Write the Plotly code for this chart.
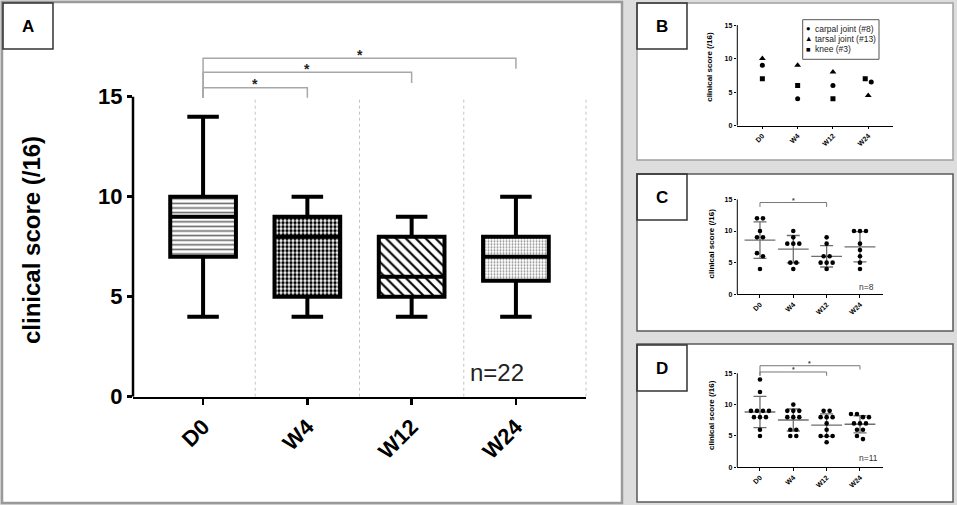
import numpy as np
import plotly.graph_objects as go

W, H = 957, 505
FONT = "Liberation Sans"

# ---------------- data ----------------
categories = ["D0", "W4", "W12", "W24"]

# Panel A : box plot statistics (n=22)
a_lower = [4, 4, 4, 4]
a_q1 = [7, 5, 5, 5.8]
a_median = [9, 8, 6, 7]
a_q3 = [10, 9, 8, 8]
a_upper = [14, 10, 9, 10]
a_label_n = "n=22"

# Panel B : three joints
b_carpal = [9, 4, 6, 6.5]
b_tarsal = [10, 9, 8, 4.5]
b_knee = [7, 6, 4, 7]
b_names = ["carpal joint (#8)", "tarsal joint (#13)", "knee (#3)"]

# Panel C : n=8
c_D0 = [12, 12, 10, 9, 9, 6.5, 6, 4]
c_W4 = [10, 9, 8, 8, 8, 5, 5, 4]
c_W12 = [9, 8, 6, 6, 5, 5, 5, 4]
c_W24 = [10, 10, 10, 8, 7, 6, 5, 4]
c_label_n = "n=8"

# Panel D : n=11
d_D0 = [14, 12, 9, 9, 9, 9, 8, 8, 8, 6, 5]
d_W4 = [10, 9, 9, 9, 8, 8, 8, 6, 6, 5, 5]
d_W12 = [9, 9, 8, 8, 8, 7, 6, 5, 5, 5, 4]
d_W24 = [8.5, 8.5, 8, 8, 7, 7, 7, 6, 6, 5, 4.5]
d_label_n = "n=11"

y_title = "clinical score (/16)"
y_ticks = [0, 5, 10, 15]

# ---------------- geometry helpers ----------------
def px(x):
    return x / W

def py(y):
    return 1 - y / H

# panel plot geometry (pixels)
G = {
    "A": dict(x=(133, 586), ybot=396.7, ppu=20.0, yr=(0, 17.6), xr=(-0.672, 3.672), s=""),
    "B": dict(x=(737.3, 893.3), ybot=125.7, ppu=6.71, yr=(0, 15), xr=(-0.71, 3.71), s="2"),
    "C": dict(x=(737.3, 883.3), ybot=294.3, ppu=6.33, yr=(0, 15), xr=(-0.68, 3.70), s="3"),
    "D": dict(x=(737.3, 883.3), ybot=467.3, ppu=6.27, yr=(0, 16.9), xr=(-0.68, 3.70), s="4"),
}
for g in G.values():
    g["ytop"] = g["ybot"] - (g["yr"][1] - g["yr"][0]) * g["ppu"]
    g["ppx"] = (g["x"][1] - g["x"][0]) / (g["xr"][1] - g["xr"][0])


def swarm(vals, ppu_y, ppu_x, d=6.0):
    order = sorted(range(len(vals)), key=lambda i: -vals[i])
    clusters = []
    for i in order:
        if clusters and (vals[clusters[-1][-1]] - vals[i]) * ppu_y < 0.9 * d:
            clusters[-1].append(i)
        else:
            clusters.append([i])
    offs = [0.0] * len(vals)
    for cl in clusters:
        k = len(cl)
        for j, i in enumerate(cl):
            offs[i] = (j - (k - 1) / 2) * d / ppu_x
    return offs


fig = go.Figure()

# ---------------- Panel A ----------------
pos = list(range(len(categories)))
height = [q3 - q1 for q1, q3 in zip(a_q1, a_q3)]
fig.add_trace(go.Bar(
    x=pos, y=height, base=a_q1, width=0.63, xaxis="x", yaxis="y",
    marker=dict(color="white", line=dict(width=0),
                pattern=dict(shape=["-", ".", "\\", "."],
                             size=[4.6, 4, 7, 3],
                             solidity=[0.35, 0.55, 0.3, 0.3],
                             fgcolor=["#6a6a6a", "black", "black", "#8a8a8a"],
                             bgcolor="white", fillmode="replace")),
    hoverinfo="skip", showlegend=False))
fig.add_trace(go.Box(
    x=pos, q1=a_q1, median=a_median, q3=a_q3, lowerfence=a_lower, upperfence=a_upper,
    width=0.63, whiskerwidth=0.48, fillcolor="rgba(0,0,0,0)",
    line=dict(color="black", width=4), xaxis="x", yaxis="y",
    hoverinfo="skip", showlegend=False, boxpoints=False))

# ---------------- Panel B ----------------
b_series = [b_carpal, b_tarsal, b_knee]
b_symbols = ["circle", "triangle-up", "square"]
b_sizes = [5, 6, 5]
b_x = [[0.0] * 4 for _ in b_series]
for c in range(4):
    vals = [s[c] for s in b_series]
    offs = swarm(vals, G["B"]["ppu"], G["B"]["ppx"])
    for k in range(3):
        b_x[k][c] = c + offs[k]
for k, s in enumerate(b_series):
    fig.add_trace(go.Scatter(
        x=b_x[k], y=s, mode="markers", xaxis="x2", yaxis="y2", name=b_names[k],
        marker=dict(symbol=b_symbols[k], size=b_sizes[k], color="black"),
        hoverinfo="skip", showlegend=False))


# ---------------- Panels C and D ----------------
def dot_panel(groups, key):
    g = G[key]
    xs, ys = [], []
    for c, vals in enumerate(groups):
        offs = swarm(vals, g["ppu"], g["ppx"])
        xs += [c + o for o in offs]
        ys += list(vals)
    means = [float(np.mean(v)) for v in groups]
    sds = [float(np.std(v, ddof=1)) for v in groups]
    fig.add_trace(go.Scatter(
        x=pos, y=means, mode="markers", xaxis="x" + g["s"], yaxis="y" + g["s"],
        marker=dict(symbol="line-ew", size=22, line=dict(width=1.3, color="#6e6e6e")),
        error_y=dict(type="data", array=sds, width=6.5, thickness=1.3, color="#6e6e6e"),
        hoverinfo="skip", showlegend=False))
    fig.add_trace(go.Scatter(
        x=xs, y=ys, mode="markers", xaxis="x" + g["s"], yaxis="y" + g["s"],
        marker=dict(size=4.6, color="black"), hoverinfo="skip", showlegend=False))


dot_panel([c_D0, c_W4, c_W12, c_W24], "C")
dot_panel([d_D0, d_W4, d_W12, d_W24], "D")

# ---------------- axes ----------------
layout_axes = {}
for key, g in G.items():
    big = key == "A"
    tf = dict(family=FONT, size=22 if big else 7, color="black", weight="bold")
    s = g["s"]
    layout_axes["xaxis" + s] = dict(
        domain=[px(g["x"][0]), px(g["x"][1])], range=list(g["xr"]),
        tickvals=pos, ticktext=categories, tickangle=-45,
        showline=True, linecolor="black", linewidth=2.5 if big else 1,
        ticks="outside", ticklen=6 if big else 2.5, tickwidth=2.5 if big else 1,
        tickcolor="black", tickfont=tf, showgrid=False, zeroline=False,
        anchor="y" + s, fixedrange=True, automargin=False)
    layout_axes["yaxis" + s] = dict(
        domain=[py(g["ybot"]), py(g["ytop"])], range=list(g["yr"]),
        tickvals=y_ticks, showline=False,
        ticks="outside", ticklen=5 if big else 2.5, tickwidth=2.5 if big else 1,
        tickcolor="black", tickfont=tf, showgrid=False, zeroline=False,
        anchor="x" + s, fixedrange=True, automargin=False)

# ---------------- shapes ----------------
shapes = []


def rect(x0, y0, x1, y1, line, width, fill="white", layer="below"):
    shapes.append(dict(type="rect", xref="paper", yref="paper",
                       x0=px(x0), x1=px(x1), y0=py(y1), y1=py(y0),
                       line=dict(color=line, width=width), fillcolor=fill, layer=layer))


rect(2, 2, 622, 503, "#9a9a9a", 2.5)
rect(637, 3, 953, 160, "#a0a0a0", 1.5)
rect(637, 174, 953, 331, "#5a5a5a", 1.5)
rect(637, 344, 953, 502, "#5a5a5a", 1.5)
# letter boxes
rect(3, 3, 53, 49, "#333333", 1.5, fill="rgba(0,0,0,0)", layer="above")
rect(637, 3, 687, 49, "#333333", 1.5, fill="rgba(0,0,0,0)", layer="above")
rect(637, 174, 687, 220, "#333333", 1.5, fill="rgba(0,0,0,0)", layer="above")
rect(637, 345, 687, 391, "#333333", 1.5, fill="rgba(0,0,0,0)", layer="above")
# B legend box
rect(802.7, 19.7, 879, 59.3, "#555555", 1, fill="white", layer="above")

# y-axis lines (0..15)
for key, g in G.items():
    s = g["s"]
    shapes.append(dict(type="line", xref=("x" + s) + " domain", yref="y" + s,
                       x0=0, x1=0, y0=0, y1=15,
                       line=dict(color="black", width=2.5 if key == "A" else 1)))

# Panel A separators
for xv in [0.5, 1.5, 2.5]:
    shapes.append(dict(type="line", xref="x", yref="y", x0=xv, x1=xv, y0=0, y1=15,
                       line=dict(color="#c4c4c4", width=1, dash="dot"), layer="below"))
shapes.append(dict(type="line", xref="x domain", yref="y", x0=1, x1=1, y0=0, y1=15,
                   line=dict(color="#c4c4c4", width=1, dash="dot"), layer="below"))


def bracket(s, x0, x1, ytop, yleg0, yleg1, color, width):
    path = f"M {x0},{yleg0} L {x0},{ytop} L {x1},{ytop} L {x1},{yleg1}"
    shapes.append(dict(type="path", xref="x" + s, yref="y" + s, path=path,
                       line=dict(color=color, width=width)))


# Panel A brackets (D0 vs W4, W12, W24)
bracket("", 0, 1, 15.45, 14.95, 14.95, "#a8a8a8", 1.5)
bracket("", 0, 2, 16.22, 14.95, 15.68, "#a8a8a8", 1.5)
bracket("", 0, 3, 16.92, 14.95, 16.40, "#a8a8a8", 1.5)
# Panel C
bracket("3", 0, 2, 14.5, 13.8, 13.8, "#777777", 1)
# Panel D
bracket("4", 0, 2, 15.2, 14.6, 14.6, "#777777", 1)
bracket("4", 0, 3, 16.2, 14.6, 15.6, "#777777", 1)

# ---------------- annotations ----------------
ann = []


def text(x, y, t, size, bold=False, color="black", angle=0, xanchor="center", yanchor="middle"):
    ann.append(dict(xref="paper", yref="paper", x=px(x), y=py(y), text=t,
                    showarrow=False, textangle=angle, xanchor=xanchor, yanchor=yanchor,
                    font=dict(family=FONT, size=size, color=color,
                              weight="bold" if bold else "normal")))


text(28, 26, "A", 17, bold=True)
text(662, 26, "B", 17, bold=True)
text(662, 197, "C", 17, bold=True)
text(662, 368, "D", 17, bold=True)

text(31, 240, y_title, 24, bold=True, angle=-90)
text(709.3, 66.5, y_title, 8, bold=True, angle=-90)
text(711, 243.5, y_title, 8, bold=True, angle=-90)
text(711, 415, y_title, 8, bold=True, angle=-90)

text(497, 372, a_label_n, 24, color="#222222")
text(866.5, 287, c_label_n, 8.5, color="#333333")
text(868.5, 458, d_label_n, 8.5, color="#333333")

# legend of B
leg_sym = ["●", "▲", "■"]
for k, (sym, name) in enumerate(zip(leg_sym, b_names)):
    yy = 28.5 + k * 10.4
    text(808.5, yy, sym, 7.5, xanchor="center")
    text(813, yy, name, 8.5, xanchor="left", color="#222222")


# stars
def star(s, x, y, size, color):
    ann.append(dict(xref="x" + s, yref="y" + s, x=x, y=y, text="*", showarrow=False,
                    xanchor="center", yanchor="bottom", yshift=-size * 0.45,
                    font=dict(family=FONT, size=size, color=color, weight="bold")))


star("", 0.5, 15.45, 14, "#222222")
star("", 1.0, 16.22, 14, "#222222")
star("", 1.5, 16.92, 14, "#222222")
star("3", 1.0, 14.5, 7, "#444444")
star("4", 1.0, 15.2, 7, "#444444")
star("4", 1.5, 16.2, 7, "#444444")

fig.update_layout(
    width=W, height=H, autosize=False,
    margin=dict(l=0, r=0, t=0, b=0, pad=0, autoexpand=False),
    paper_bgcolor="#dddddd", plot_bgcolor="rgba(0,0,0,0)",
    barmode="overlay", boxmode="overlay",
    showlegend=False, shapes=shapes, annotations=ann,
    font=dict(family=FONT),
    **layout_axes,
)

page_js = "document.body.style.margin='0';document.body.style.padding='0';"
fig.write_html("out.html", config={"displayModeBar": False, "staticPlot": True},
               post_script=page_js)
